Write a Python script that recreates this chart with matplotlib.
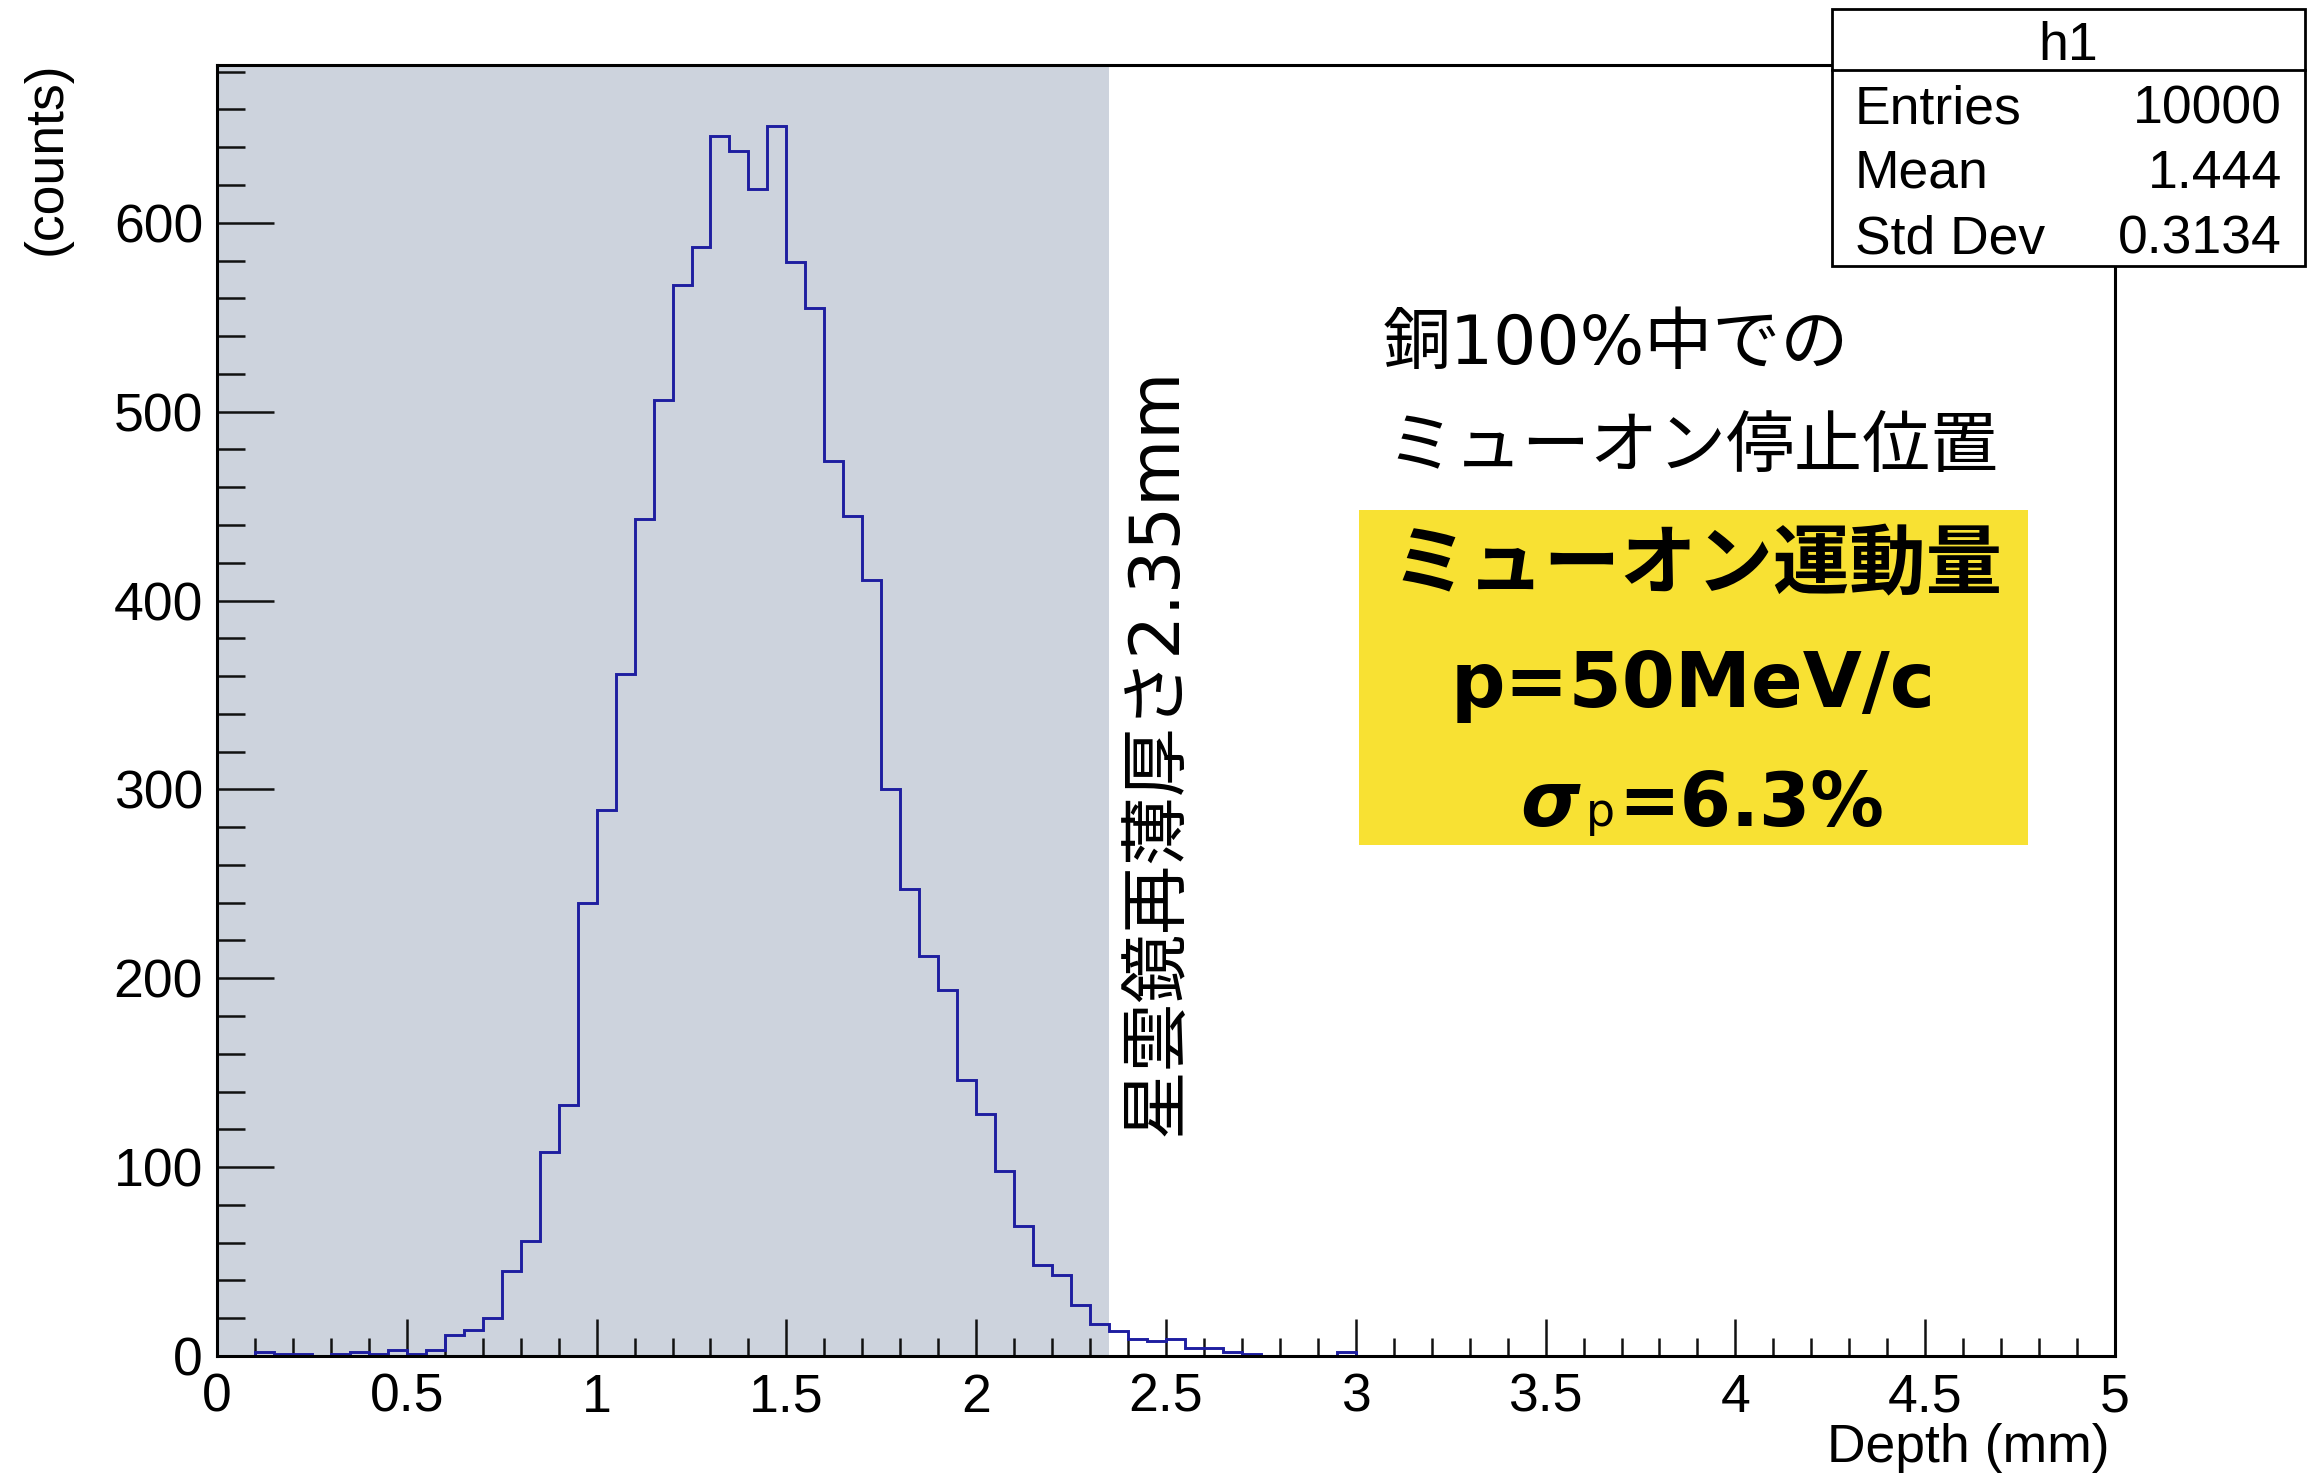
import numpy as np
import matplotlib.pyplot as plt
from matplotlib.patches import Rectangle
from matplotlib.ticker import MultipleLocator

# bin contents, 100 bins of 0.05 mm between 0 and 5 mm
counts = [
    0, 0, 2, 1, 1, 0, 1, 2, 1, 3,
    1, 3, 11, 14, 20, 45, 61, 108, 133, 240,
    289, 361, 443, 506, 567, 587, 646, 638, 618, 651,
    579, 555, 474, 445, 411, 300, 247, 212, 194, 146,
    128, 98, 69, 48, 43, 27, 17, 13, 9, 8,
    9, 4, 4, 2, 1, 0, 0, 0, 0, 2,
    0, 0, 0, 0, 0, 0, 0, 0, 0, 0,
    0, 0, 0, 0, 0, 0, 0, 0, 0, 0,
    0, 0, 0, 0, 0, 0, 0, 0, 0, 0,
    0, 0, 0, 0, 0, 0, 0, 0, 0, 0,
]
x_min, x_max = 0.0, 5.0
plate_thickness = 2.35  # mm, shaded band
hist_name = 'h1'
stat_labels = ['Entries', 'Mean', 'Std Dev']
stat_values = ['10000', '1.444', '0.3134']

W, H = 2311, 1474
def fx(px):
    return px / W
def fy(py):
    return 1 - py / H

LAT = 'Liberation Sans'
JP = ['DejaVu Sans', 'Noto Sans CJK JP']
plt.rcParams['font.family'] = [LAT, 'Noto Sans CJK JP']
FS = 38.5

fig = plt.figure(figsize=(W / 100, H / 100), dpi=100)
ax = fig.add_axes([fx(217), fy(1356), fx(2115) - fx(217), fy(65) - fy(1356)])

edges = np.linspace(x_min, x_max, len(counts) + 1)
ax.axvspan(x_min, plate_thickness, color='#CDD3DD', lw=0, zorder=0)
ax.stairs(counts, edges, color='#1E1EA0', lw=2.1, zorder=2)

ax.set_xlim(x_min, x_max)
ax.set_ylim(0, max(counts) * 1.05)

for s in ax.spines.values():
    s.set_linewidth(2.2)
    s.set_zorder(3)

ax.xaxis.set_major_locator(MultipleLocator(0.5))
ax.xaxis.set_minor_locator(MultipleLocator(0.1))
ax.yaxis.set_major_locator(MultipleLocator(100))
ax.yaxis.set_minor_locator(MultipleLocator(20))
ax.tick_params(axis='both', which='both', direction='in', top=False, right=False,
               width=1.8, color='#111111', labelsize=FS)
ax.tick_params(axis='y', which='major', length=41, pad=10)
ax.tick_params(axis='y', which='minor', length=20)
ax.tick_params(axis='x', which='major', length=27, pad=12)
ax.tick_params(axis='x', which='minor', length=13)
ax.xaxis.set_major_formatter(plt.FuncFormatter(lambda v, p: f'{v:g}'))

fig.text(fx(2110), fy(1448), 'Depth (mm)', fontsize=FS, ha='right', va='center')
fig.text(fx(47), fy(158), '(counts)', fontsize=FS, rotation=90, ha='center', va='center')

# vertical annotation at the plate thickness
fig.text(fx(1157), fy(752), '星雲鏡再薄厚さ2.35mm', family=JP, fontsize=49.5,
         rotation=90, ha='center', va='center')

# descriptive texts
fig.text(fx(1383), fy(345), '銅100%中での', family=JP, fontsize=49, ha='left', va='center')
fig.text(fx(1386), fy(448), 'ミューオン停止位置', family=JP, fontsize=49, ha='left', va='center')

fig.add_artist(Rectangle((fx(1359), fy(845)), fx(2028) - fx(1359), fy(510) - fy(845),
                         transform=fig.transFigure, facecolor='#F8E133', edgecolor='none',
                         zorder=4))
fig.text(fx(1697), fy(567), 'ミューオン運動量', family=JP, fontsize=55, weight='bold',
         ha='center', va='center', zorder=5)
fig.text(fx(1693), fy(707), 'p=50MeV/c', family=JP, fontsize=55, weight='bold',
         ha='center', va='baseline', zorder=5)
fig.text(fx(1520), fy(826), 'σ', family=JP, fontsize=55, weight='bold', style='italic',
         ha='left', va='baseline', zorder=5)
fig.text(fx(1586), fy(826), 'p', family=JP, fontsize=33,
         ha='left', va='baseline', zorder=5)
fig.text(fx(1618), fy(826), '=6.3%', family=JP, fontsize=53, weight='bold',
         ha='left', va='baseline', zorder=5)

# stats box
bx0, bx1, by0, by1 = 1832, 2305, 9, 266
fig.add_artist(Rectangle((fx(bx0), fy(by1)), fx(bx1) - fx(bx0), fy(by0) - fy(by1),
                         transform=fig.transFigure, facecolor='white', edgecolor='black',
                         lw=2.0, zorder=6))
fig.add_artist(plt.Line2D([fx(bx0), fx(bx1)], [fy(70), fy(70)], transform=fig.transFigure,
                          color='black', lw=2.0, zorder=7))
fig.text(fx((bx0 + bx1) / 2), fy(46), hist_name, fontsize=FS, ha='center', va='center', zorder=7)
for i, (lab, val) in enumerate(zip(stat_labels, stat_values)):
    y = fy(109 + i * 65)
    fig.text(fx(1855), y, lab, fontsize=FS, ha='left', va='center', zorder=7)
    fig.text(fx(2282), y, val, fontsize=FS, ha='right', va='center', zorder=7)

fig.savefig('out.png', dpi=100)
